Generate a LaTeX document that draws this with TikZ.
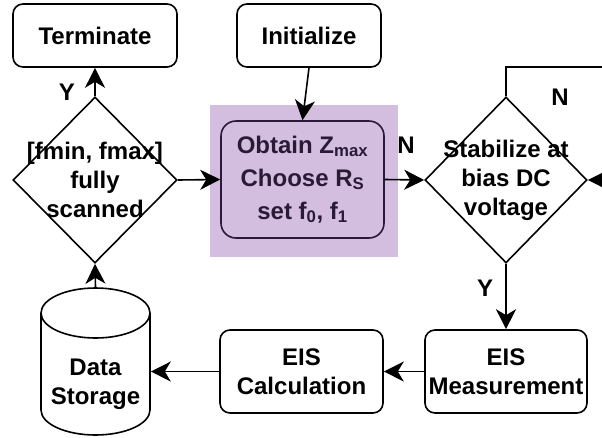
\documentclass[tikz,border=0pt]{standalone}
\usepackage{fontspec}
\setmainfont{Liberation Sans}
\usetikzlibrary{arrows.meta,shapes.geometric}

\definecolor{lilac}{HTML}{D3BEE0}
\definecolor{plum}{HTML}{2A1A38}

\begin{document}
\begin{tikzpicture}[x=1pt,y=-1pt,
  font=\fontsize{24}{29}\selectfont\bfseries, line width=1.6pt,
  box/.style={draw,rounded corners=10pt,minimum width=164pt,minimum height=63pt,align=center,inner sep=2pt},
  decision/.style={draw,shape=diamond,minimum width=164pt,minimum height=166pt,inner sep=0pt},
  words/.style={align=center,inner sep=0pt},
  link/.style={-{Stealth[length=20pt,width=20pt,inset=6pt]}},
  tag/.style={inner sep=1pt}]
  \useasboundingbox (0,0) rectangle (602,437);
  % highlighted set-up step
  \node[fill=lilac,minimum width=188pt,minimum height=152pt] (focus) at (304,181) {};
  \node[box] (stop) at (95,35.5) {Terminate};
  \node[box,minimum width=144pt] (init) at (309,35.5) {Initialize};
  \node[box,draw=plum,text=plum,rounded corners=15pt,minimum width=163pt,minimum height=117pt,
        font=\fontsize{24}{33}\selectfont\bfseries] (setup) at (302.5,179.5)
        {Obtain Z\textsubscript{max}\\Choose R\textsubscript{S}\\set f\textsubscript{0}, f\textsubscript{1}};
  % decisions
  \node[decision] (scan) at (95,180) {};
  \node[words] (scantxt) at (95,180) {[fmin, fmax]\\fully\\scanned};
  \node[decision,minimum width=162pt] (bias) at (506,180) {};
  \node[words] (biastxt) at (506,180) {Stabilize at\\bias DC\\voltage};
  % bottom row
  \node[box,minimum width=162pt,minimum height=83pt] (meas) at (506,371.5) {EIS\\Measurement};
  \node[box,minimum width=163pt,minimum height=83pt] (calc) at (301.5,371.5) {EIS\\Calculation};
  \node[minimum width=109pt,minimum height=147pt,inner sep=0pt] (store) at (95.5,361.5) {};
  \draw (41,313) -- (41,410) arc (180:0:54.5 and 25) -- (150,313);
  \draw (95.5,313) ellipse (54.5 and 25);
  \node[words] (storetxt) at (95.5,384) {Data\\Storage};
  % connectors
  \coordinate (outtop) at (602,67);
  \coordinate (outmid) at (602,180);
  \draw[link] (scan.north) -- (stop.south);
  \draw[link] (init.south) -- (setup.north);
  \draw[link] (scan.east) -- (setup.west);
  \draw[link] (setup.east) -- (bias.west);
  \draw[link] (bias.south) -- (meas.north);
  \draw[link] (meas.west) -- (calc.east);
  \draw[link] (calc.west) -- (calc.west -| store.east);
  \draw[link] (store.north) -- (scan.south);
  \draw (bias.north) |- (outtop);
  \draw[link] (outmid) -- (bias.east);
  % branch labels
  \node[tag] (ystop) at (67,92) {Y};
  \node[tag] (nset) at (406,145) {N};
  \node[tag] (nloop) at (560,97) {N};
  \node[tag] (ybias) at (485,288) {Y};
\end{tikzpicture}
\end{document}
